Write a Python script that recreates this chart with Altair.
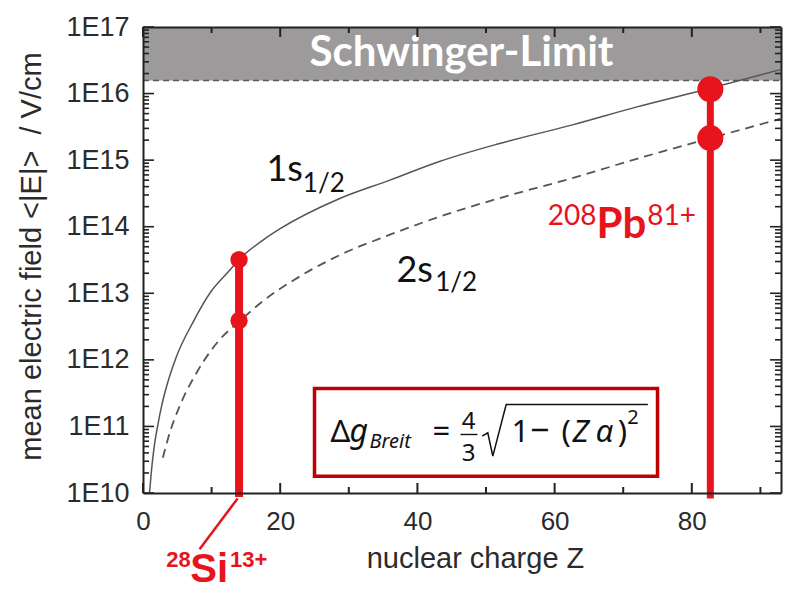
import altair as alt
import pandas as pd

W, H = 638, 466
PAD = {"left": 143, "top": 27, "right": 7, "bottom": 99}

AX_FONT = "Liberation Sans"
TXT = "#2b2b2b"
FRAME = "#222222"
RED = "#e8141c"

# ---- axis ranges and ticks ----
x_domain = [0, 93]
y_domain = [1e10, 1e17]
x_label_values = [0, 20, 40, 60, 80]
x_minor_values = [10, 30, 50, 70, 90]
y_decades = [1e10, 1e11, 1e12, 1e13, 1e14, 1e15, 1e16, 1e17]
y_minor_mult = [2, 3, 4, 5, 6, 7, 8, 9]
y_minor_values = [m * d for d in y_decades[:-1] for m in y_minor_mult]

# ---- curves: nuclear charge Z and log10 of mean field <|E|> (V/cm) ----
z_1s = [0.95, 1.19, 1.6, 2.16, 2.7, 3.38, 4.84, 7.26, 9.94, 12.5, 13.92, 17.5, 20.0,
        28.6, 36.0, 43.2, 52.0, 62.6, 72.0, 82.7, 92.9]
log_1s = [10.0, 10.29, 10.67, 11.02, 11.30, 11.58, 12.04, 12.56, 13.03, 13.33, 13.5, 13.8, 13.97,
          14.42, 14.7, 14.98, 15.25, 15.53, 15.8, 16.08, 16.36]
z_2s = [2.89, 4.1, 4.93, 6.05, 7.5, 8.97, 11.15, 14.07, 17.7, 22.0, 28.6, 36.0, 43.2,
        52.0, 62.6, 72.0, 82.7, 92.9]
log_2s = [10.53, 10.97, 11.2, 11.47, 11.75, 12.0, 12.3, 12.58, 12.9, 13.2, 13.57, 13.88, 14.15,
          14.43, 14.73, 15.02, 15.33, 15.62]

schwinger_limit = 1.57e16

# ---- ions ----
ion_z = [14.0, 82.7]
ion_e1s = [3.2e13, 1.16e16]
ion_e2s = [3.9e12, 2.14e15]
ion_e_bottom = [8.7e9, 8.3e9]
ion_width = [8, 7]
ion_dot = [300, 680]

leader_z = [13.8, 8.25]
leader_e = [8.3e9, 1.43e9]

# ---- formula box ----
box_z = [25.0, 75.0]
box_e = [1.78e10, 3.7e11]

# ---- text annotations (z, log10 E) ----
state_text = ["1s", "1/2", "2s", "1/2"]
state_z = [18.0, 23.3, 36.95, 42.6]
state_log = [14.69, 14.525, 13.175, 13.04]
state_fs = [36, 26, 36, 26]

pb_sup_text = ["208", "81+"]
pb_sup_z = [59.0, 73.5]
pb_sup_log = [14.03, 14.03]
pb_main_text = ["Pb"]
pb_main_z = [66.1]
pb_main_log = [13.835]

si_text = ["28", "Si", "13+"]
si_z = [3.4, 6.9, 12.7]
si_log = [8.884, 8.659, 8.884]
si_fs = [22, 40, 22]

f_norm_text = ["Δ", "=", "1", "−", "(", ")", "2"]
f_norm_z = [27.33, 42.2, 53.7, 56.4, 61.0, 69.2, 70.6]
f_norm_log = [10.759, 10.759, 10.759, 10.759, 10.759, 10.759, 11.029]
f_norm_fs = [31, 31, 31, 34, 31, 31, 20]

f_frac_text = ["4", "3"]
f_frac_z = [47.45, 47.45]
f_frac_log = [10.954, 10.474]

f_ital_text = ["g", "Breit", "Z", "α"]
f_ital_z = [30.1, 33.02, 62.6, 66.0]
f_ital_log = [10.759, 10.669, 10.759, 10.759]
f_ital_fs = [32, 20, 31, 31]

frac_bar_z = [46.28, 48.76]
frac_bar_log = 10.879
rad_z = [49.45, 50.26, 50.99, 52.94, 73.59]
rad_log = [10.854, 10.905, 10.554, 11.329, 11.329]

schw_text = ["Schwinger-Limit"]
schw_z = [46.43]
schw_log = [16.415]

# ------------------------------------------------------------------
xs = alt.Scale(domain=x_domain, nice=False, zero=False)
ys = alt.Scale(type="log", domain=y_domain, nice=False)

PX_PER_Z = W / (x_domain[1] - x_domain[0])
PX_PER_DEC = H / 7.0


def X(f="z"):
    return alt.X(f + ":Q", scale=xs, axis=None)


def Y(f="E"):
    return alt.Y(f + ":Q", scale=ys, axis=None)


def text_layer(texts, zs, logs, sizes, font, weight="normal", style="normal",
               color="#111111", align="left"):
    df = pd.DataFrame({"t": texts, "z": zs, "E": [10 ** v for v in logs], "fs": sizes})
    return alt.Chart(df).mark_text(
        font=font, fontWeight=weight, fontStyle=style, color=color,
        align=align, baseline="alphabetic"
    ).encode(x=X(), y=Y(), text="t:N", size=alt.Size("fs:Q", scale=None, legend=None))


# Schwinger band
band_df = pd.DataFrame({"z": [x_domain[0]], "z2": [x_domain[1]],
                        "E": [schwinger_limit], "E2": [y_domain[1]]})
band = alt.Chart(band_df).mark_rect(color="#9c9a9a").encode(
    x=X(), x2="z2:Q", y=Y(), y2="E2:Q")
band_line = alt.Chart(band_df).mark_rule(color="#5a5a5a", strokeWidth=1.5, strokeDash=[6, 4]).encode(
    x=X(), x2="z2:Q", y=Y())

df1 = pd.DataFrame({"z": z_1s, "E": [10 ** v for v in log_1s]})
df2 = pd.DataFrame({"z": z_2s, "E": [10 ** v for v in log_2s]})
line1 = alt.Chart(df1).mark_line(color="#555555", strokeWidth=1.5, interpolate="monotone").encode(
    x=X(), y=Y())
line2 = alt.Chart(df2).mark_line(color="#555555", strokeWidth=1.8, strokeDash=[9, 6],
                                 interpolate="monotone").encode(x=X(), y=Y())

# formula box
box_df = pd.DataFrame({"z": [box_z[0]], "z2": [box_z[1]], "E": [box_e[0]], "E2": [box_e[1]]})
box = alt.Chart(box_df).mark_rect(fill="white", stroke="#c00000", strokeWidth=3.5).encode(
    x=X(), x2="z2:Q", y=Y(), y2="E2:Q")

FF = "Noto Sans"
f_norm = text_layer(f_norm_text, f_norm_z, f_norm_log, f_norm_fs, FF)
f_frac = text_layer(f_frac_text, f_frac_z, f_frac_log, [24, 24], FF, align="center")
f_ital = text_layer(f_ital_text, f_ital_z, f_ital_log, f_ital_fs, FF, style="italic")
fb_df = pd.DataFrame({"z": [frac_bar_z[0]], "z2": [frac_bar_z[1]], "E": [10 ** frac_bar_log]})
frac_bar = alt.Chart(fb_df).mark_rule(color="#111111", strokeWidth=1.4).encode(x=X(), x2="z2:Q", y=Y())
rad_df = pd.DataFrame({"z": rad_z, "E": [10 ** v for v in rad_log], "o": list(range(len(rad_z)))})
radical = alt.Chart(rad_df).mark_line(color="#111111", strokeWidth=1.5).encode(
    x=X(), y=Y(), order="o:Q")

# ions
ion_df = pd.DataFrame({"z": ion_z, "E": ion_e1s, "E2": ion_e_bottom, "w": ion_width})
ion_rules = alt.Chart(ion_df).mark_rule(color=RED).encode(
    x=X(), y=Y(), y2="E2:Q", size=alt.Size("w:Q", scale=None, legend=None))
lead_df = pd.DataFrame({"z": [leader_z[0]], "z2": [leader_z[1]], "E": [leader_e[0]], "E2": [leader_e[1]]})
leader = alt.Chart(lead_df).mark_rule(color=RED, strokeWidth=2.5).encode(
    x=X(), x2="z2:Q", y=Y(), y2="E2:Q")
dot_df = pd.DataFrame({"z": ion_z + ion_z, "E": ion_e1s + ion_e2s, "s": ion_dot + ion_dot})
dots = alt.Chart(dot_df).mark_circle(color=RED, opacity=1).encode(
    x=X(), y=Y(), size=alt.Size("s:Q", scale=None, legend=None))

states = text_layer(state_text, state_z, state_log, state_fs, "Lato", color="#111111")
pb_sup = text_layer(pb_sup_text, pb_sup_z, pb_sup_log, [28, 28], "Lato", color=RED)
pb_main = text_layer(pb_main_text, pb_main_z, pb_main_log, [42], "Lato", weight="bold", color=RED)
si_lab = text_layer(si_text, si_z, si_log, si_fs, "Liberation Sans", weight="bold", color=RED)
schw = text_layer(schw_text, schw_z, schw_log, [42], "Lato", weight="bold", color="white", align="center")


# ---- inward tick marks on all four edges (built through the scales) ----
def x_ticks(values, length_px):
    dec = length_px / PX_PER_DEC
    lo, hi = y_domain
    df = pd.DataFrame({
        "z": values + values,
        "E": [lo] * len(values) + [hi] * len(values),
        "E2": [lo * 10 ** dec] * len(values) + [hi / 10 ** dec] * len(values),
    })
    return alt.Chart(df).mark_rule(color=FRAME, strokeWidth=2).encode(x=X(), y=Y(), y2="E2:Q")


def y_ticks(values, length_px):
    dz = length_px / PX_PER_Z
    lo, hi = x_domain
    df = pd.DataFrame({
        "E": values + values,
        "z": [lo] * len(values) + [hi] * len(values),
        "z2": [lo + dz] * len(values) + [hi - dz] * len(values),
    })
    return alt.Chart(df).mark_rule(color=FRAME, strokeWidth=1.6).encode(y=Y(), x=X(), x2="z2:Q")


tick_marks = [x_ticks(x_label_values, 10), x_ticks(x_minor_values, 6),
              y_ticks(y_decades, 11), y_ticks(y_minor_values, 6)]

# ---- axes: labels on bottom/left, frame lines on all four edges ----
ax_df = pd.DataFrame({"z": [0.0], "E": [1e10]})

axis_main = alt.Chart(ax_df).mark_point(opacity=0).encode(
    x=alt.X("z:Q", scale=xs, axis=alt.Axis(
        orient="bottom", values=x_label_values, tickSize=0, domain=False, grid=False,
        labelFont=AX_FONT, labelFontSize=26, labelColor=TXT, labelPadding=15,
        labelFlush=False, labelOverlap=False,
        title="nuclear charge Z", titleFont=AX_FONT, titleFontSize=29, titleFontWeight="normal",
        titleColor=TXT, titleX=332, titleY=74, titleAlign="center", titleBaseline="alphabetic")),
    y=alt.Y("E:Q", scale=ys, axis=alt.Axis(
        orient="left", values=y_decades, tickSize=0, domain=False, grid=False,
        labelExpr="'1E' + round(log(datum.value) / LN10)",
        labelFont=AX_FONT, labelFontSize=27, labelColor=TXT, labelPadding=14,
        labelFlush=False, labelOverlap=False,
        title="mean electric field <|E|> \u00a0/ V/cm", titleFont=AX_FONT, titleFontSize=29,
        titleFontWeight="normal", titleColor=TXT, titleAngle=270, titleX=-112, titleY=229,
        titleAlign="center", titleBaseline="middle")),
)


def frame_x(orient):
    return alt.Axis(orient=orient, offset=-H, values=x_label_values, labels=False, ticks=False,
                    domain=True, domainColor=FRAME, domainWidth=2, grid=False, title=None, zindex=2)


def frame_y(orient):
    return alt.Axis(orient=orient, offset=-W, values=y_decades, labels=False, ticks=False,
                    domain=True, domainColor=FRAME, domainWidth=2, grid=False, title=None, zindex=2)


frame_layers = []
for xo, yo in [("top", "right"), ("bottom", "left")]:
    frame_layers.append(alt.Chart(ax_df).mark_point(opacity=0).encode(
        x=alt.X("z:Q", scale=xs, axis=frame_x(xo)),
        y=alt.Y("E:Q", scale=ys, axis=frame_y(yo))))

chart = alt.layer(
    band, band_line, line1, line2, box, f_norm, f_frac, f_ital, frac_bar, radical,
    ion_rules, leader, dots, states, pb_sup, pb_main, si_lab, schw,
    *tick_marks, axis_main, *frame_layers,
).properties(
    width=W, height=H, padding=PAD,
    autosize=alt.AutoSizeParams(type="none"),
).resolve_axis(x="independent", y="independent").configure_view(strokeWidth=0)

chart.save("out.html", embed_options={"renderer": "svg", "actions": False})
